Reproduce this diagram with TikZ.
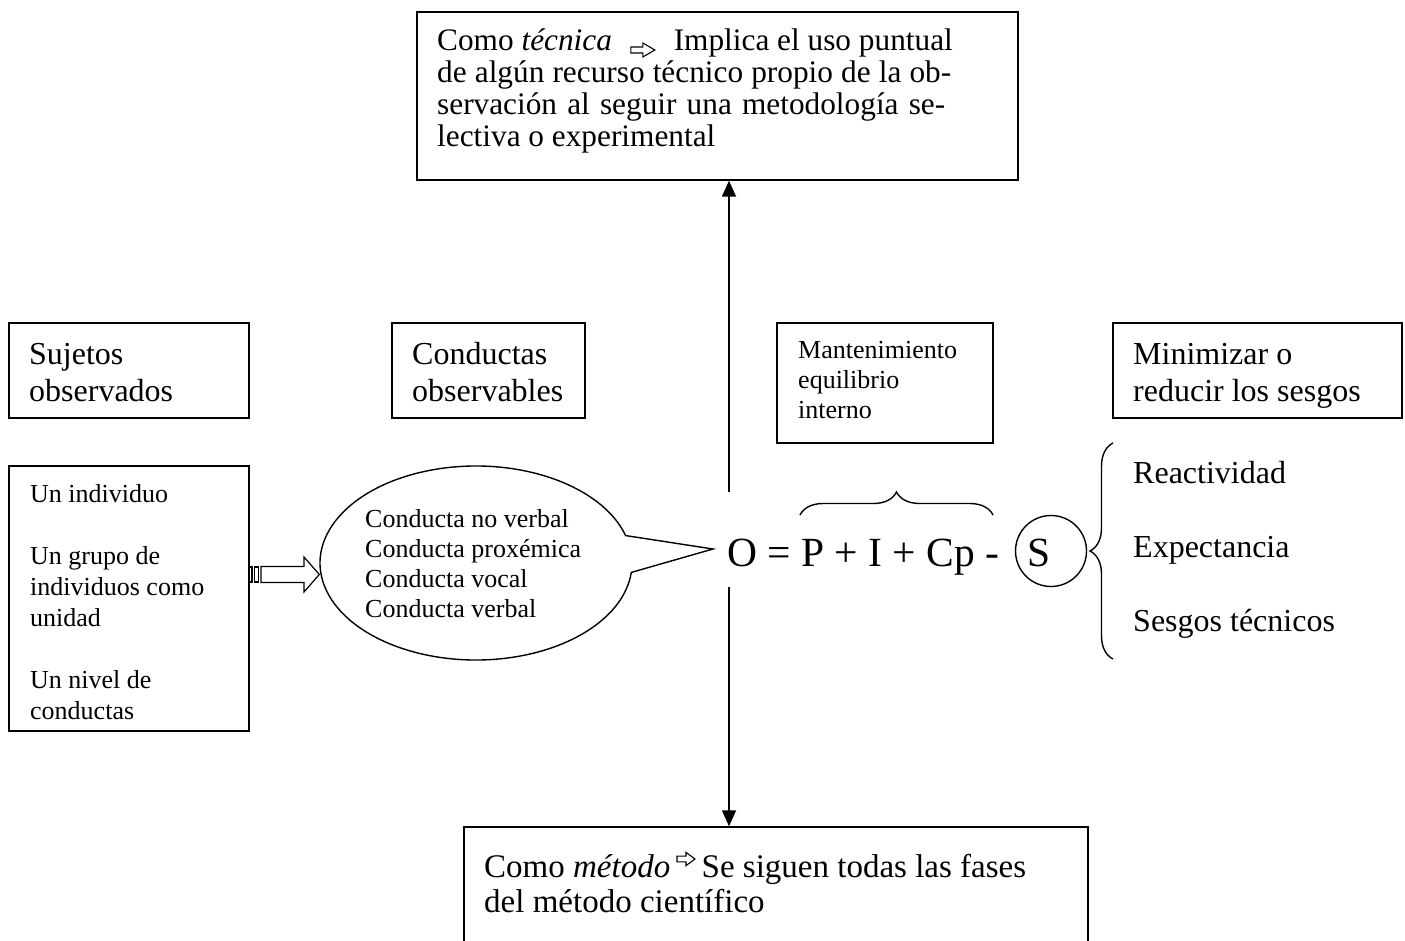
\documentclass[tikz,border=0pt]{standalone}
\usepackage{fontspec}
\setmainfont{Liberation Serif}
\usetikzlibrary{arrows.meta,shapes.callouts,decorations.pathreplacing,calc}

\begin{document}
\begin{tikzpicture}[x=1pt,y=-1pt,
  box/.style={draw, line width=1.5pt, rectangle, inner sep=0pt},
  txt/.style={anchor=base west, inner sep=0pt},
  big/.style={font=\fontsize{32}{37}\selectfont},
  small/.style={font=\fontsize{26}{30}\selectfont},
  defn/.style={font=\fontsize{31.3}{32}\selectfont},
  meth/.style={font=\fontsize{33}{35}\selectfont},
  link/.style={line width=1.8pt, -{Triangle[length=16pt,width=14pt]}},
  bracefig/.style={line width=1.4pt, decorate, decoration={brace, amplitude=23pt}},
  hollowarrow/.pic={\draw[line width=1.1pt, fill=white]
      (-12,-3) -- (0,-3) -- (0,-7) -- (12,0) -- (0,7) -- (0,3) -- (-12,3) -- cycle;},
]
\useasboundingbox (0,0) rectangle (1405,941);

% ---------- boxes ----------
\node[box, minimum width=601pt, minimum height=168pt] (tecnica) at (717.5,96) {};
\node[box, minimum width=624pt, minimum height=160pt] (metodo) at (776,907) {};
\node[box, minimum width=240pt, minimum height=95pt] (sujetos) at (129,370.5) {};
\node[box, minimum width=193pt, minimum height=95pt] (conductas) at (488.5,370.5) {};
\node[box, minimum width=216pt, minimum height=120pt] (equilibrio) at (885,383) {};
\node[box, minimum width=289pt, minimum height=95pt] (sesgos) at (1257.5,370.5) {};
\node[box, minimum width=240pt, minimum height=265pt] (niveles) at (129,598.5) {};

% ---------- "como técnica" ----------
\node[txt, defn] (tec1) at (437,51) {Como \textit{técnica}};
\node[txt, defn, anchor=base east] (tec2) at (953,51) {Implica el uso puntual};
\pic at ($(tec1.base east)!0.5!(tec2.base west)+(0,-1)$) {hollowarrow};
\node[txt, defn] (tec3) at (437,83) {\parbox[t]{516pt}{%
  \makebox[514pt][s]{de algún recurso técnico propio de la ob-}\\
  \makebox[508pt][s]{servación al seguir una metodología se-}\\
  lectiva o experimental}};

% ---------- "como método" ----------
\node[txt, meth] (met1) at (484,877) {Como \textit{método}};
\node[txt, meth] (met2) at ($(met1.base east)+(31,0)$) {Se siguen todas las fases};
\pic[xscale=0.75, yscale=0.95] at ($(met1.base east)!0.5!(met2.base west)+(0,-18)$) {hollowarrow};
\node[txt, meth] (met3) at (484,912) {del método científico};

% ---------- headings ----------
\node[txt, big] (sujetostxt) at (29,364) {\parbox[t]{220pt}{\raggedright Sujetos\\observados}};
\node[txt, big] (conductastxt) at (412,364) {\parbox[t]{180pt}{\raggedright Conductas\\observables}};
\node[txt, small] (equilibriotxt) at (798,358) {\parbox[t]{190pt}{\raggedright Mantenimiento\\equilibrio\\interno}};
\node[txt, big] (sesgostxt) at (1133,364) {\parbox[t]{270pt}{\raggedright Minimizar o\\reducir los sesgos}};

\node[txt, font=\fontsize{26}{31}\selectfont] (nivelestxt) at (30,502) {\parbox[t]{220pt}{\raggedright
  Un individuo\\[31pt]
  Un grupo de\\
  individuos como\\
  unidad\\[31pt]
  Un nivel de\\
  conductas}};

% ---------- formula and speech bubble ----------
\node[txt, font=\fontsize{41.5}{41.5}\selectfont] (eq) at (727,566) {O = P + I + Cp -};
\node[draw, line width=1.4pt, ellipse callout, inner sep=0pt,
      minimum width=312pt, minimum height=194pt,
      callout absolute pointer={(713,549)}, callout pointer arc=22] (bubble) at (476,563) {};
\node[txt, font=\fontsize{26}{30}\selectfont] (bubbletxt) at (365,527) {\parbox[t]{260pt}{\raggedright
  Conducta no verbal\\
  Conducta proxémica\\
  Conducta vocal\\
  Conducta verbal}};

% ---------- circled S ----------
\node[draw, circle, line width=1.4pt, minimum size=71pt, inner sep=0pt] (ring) at (1051,551) {};
\node[txt, font=\fontsize{41.5}{41.5}\selectfont] (s) at (1027,566) {S};

% ---------- bias list ----------
\node[txt, big] (reac) at (1133,483) {Reactividad};
\node[txt, big] (expe) at (1133,557) {Expectancia};
\node[txt, big] (tecn) at (1133,631) {Sesgos técnicos};

% ---------- braces ----------
\coordinate (bl) at (800,515);
\coordinate (br) at (993,515);
\draw[bracefig] (bl) -- (br);
\coordinate (rb) at (1113,659);
\coordinate (rt) at (1113,443);
\draw[bracefig] (rb) -- (rt);

% ---------- vertical connectors ----------
\coordinate (upfrom) at (729,492);
\coordinate (downfrom) at (729,587);
\draw[link] (upfrom) -- (tecnica.south -| upfrom);
\draw[link] (downfrom) -- (metodo.north -| downfrom);

% ---------- striped block arrow ----------
\draw[line width=1.2pt, fill=white]
  (249,567) rectangle (252,582)
  (254.5,567) rectangle (258.5,582);
\draw[line width=1.2pt, fill=white]
  (261,566.5) -- (304,566.5) -- (304,557) -- (bubble.west |- 0,574.5) -- (304,592) -- (304,582.5) -- (261,582.5) -- cycle;
\end{tikzpicture}
\end{document}
